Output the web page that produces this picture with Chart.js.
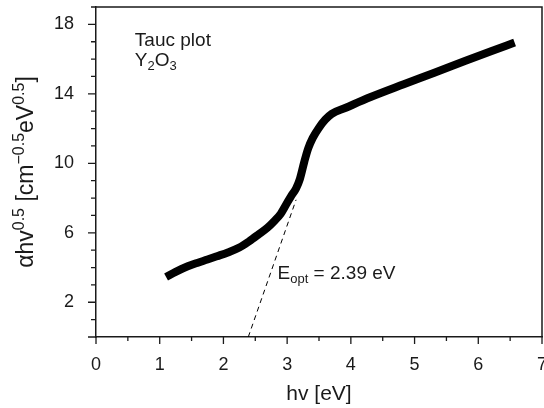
<!DOCTYPE html>
<html>
<head>
<meta charset="utf-8">
<script src="https://cdn.jsdelivr.net/npm/chart.js@4.4.0/dist/chart.umd.min.js"></script>
<style>
  html, body { margin: 0; padding: 0; background: #fff; }
</style>
</head>
<body>
<canvas id="myChart" width="544" height="408"></canvas>
<script>
// photon energy hv [eV] and (alpha*hv)^0.5
const hv   = [1.10, 1.25, 1.44, 1.60, 1.75, 1.90, 2.07, 2.25, 2.40, 2.55, 2.69, 2.80, 2.90, 2.98, 3.06, 3.14, 3.20, 3.27, 3.33, 3.40, 3.50, 3.60, 3.70, 3.92, 4.30, 4.83, 5.30, 5.80, 6.20, 6.57];
const tauc = [3.45, 3.75, 4.07, 4.28, 4.46, 4.65, 4.87, 5.15, 5.50, 5.90, 6.29, 6.68, 7.10, 7.60, 8.10, 8.55, 9.10, 10.10, 10.85, 11.45, 12.05, 12.52, 12.85, 13.20, 13.80, 14.55, 15.20, 15.90, 16.45, 16.95];

// linear extrapolation of the edge to the energy axis
const fitHv  = [2.39, 3.14];
const fitVal = [0, 7.9];

// labelled ticks
const xLabels = [0, 1, 2, 3, 4, 5, 6, 7];
const yLabels = [2, 6, 10, 14, 18];

const FONT = "'Liberation Sans', Arial, Helvetica, sans-serif";
const INK = '#1a1a1a';

// draws a run of [text, 'n'|'sup'|'sub'] pieces starting at (x,y) baseline
function richWidth(ctx, parts, size) {
  let w = 0;
  parts.forEach(([t, k]) => {
    ctx.font = (k === 'n' ? size : Math.round(size * 0.68)) + 'px ' + FONT;
    w += ctx.measureText(t).width;
  });
  return w;
}
function richText(ctx, parts, x, y, size) {
  parts.forEach(([t, k]) => {
    const s = k === 'n' ? size : Math.round(size * 0.68);
    ctx.font = s + 'px ' + FONT;
    let dy = 0;
    if (k === 'sup') dy = -size * 0.38;
    if (k === 'sub') dy = size * 0.22;
    ctx.fillText(t, x, y + dy);
    x += ctx.measureText(t).width;
  });
}

const extras = {
  id: 'extras',
  afterDraw(chart) {
    const ctx = chart.ctx;
    const xs = chart.scales.x, ys = chart.scales.y;
    const a = chart.chartArea;
    ctx.save();
    ctx.strokeStyle = INK;
    ctx.lineWidth = 1.5;
    // top and right frame
    ctx.beginPath();
    ctx.moveTo(a.left, a.top);
    ctx.lineTo(a.right, a.top);
    ctx.lineTo(a.right, a.bottom);
    ctx.stroke();
    // tick marks, outside
    ctx.lineWidth = 1.3;
    ctx.beginPath();
    xs.ticks.forEach(t => {
      const p = xs.getPixelForValue(t.value);
      const len = xLabels.includes(t.value) ? 7 : 4;
      ctx.moveTo(p, a.bottom);
      ctx.lineTo(p, a.bottom + len);
    });
    ys.ticks.forEach(t => {
      const p = ys.getPixelForValue(t.value);
      const len = (yLabels.includes(t.value) || t.value === 0) ? 8 : 5;
      ctx.moveTo(a.left, p);
      ctx.lineTo(a.left - len, p);
    });
    ctx.stroke();

    ctx.fillStyle = INK;
    ctx.textBaseline = 'alphabetic';
    ctx.textAlign = 'left';
    // annotations, anchored in data units
    ctx.font = '19px ' + FONT;
    ctx.fillText('Tauc plot', xs.getPixelForValue(0.61), ys.getPixelForValue(16.75));
    richText(ctx, [['Y', 'n'], ['2', 'sub'], ['O', 'n'], ['3', 'sub']],
      xs.getPixelForValue(0.61), ys.getPixelForValue(15.6), 19);
    richText(ctx, [['E', 'n'], ['opt', 'sub'], [' = 2.39 eV', 'n']],
      xs.getPixelForValue(2.85), ys.getPixelForValue(3.35), 19);

    // x title
    ctx.font = '21px ' + FONT;
    ctx.textAlign = 'center';
    ctx.fillText('hv [eV]', (a.left + a.right) / 2, 400);

    // y title, rotated
    ctx.textAlign = 'left';
    const yParts = [['\u03b1hv', 'n'], ['0.5', 'sup'], [' [cm', 'n'], ['\u22120.5', 'sup'], ['eV', 'n'], ['0.5', 'sup'], [']', 'n']];
    const w = richWidth(ctx, yParts, 23);
    ctx.translate(33, (a.top + a.bottom) / 2);
    ctx.rotate(-Math.PI / 2);
    richText(ctx, yParts, -w / 2, 0, 23);
    ctx.restore();
  }
};

const ctx = document.getElementById('myChart').getContext('2d');
new Chart(ctx, {
  type: 'line',
  data: {
    datasets: [{
      data: hv.map((x, i) => ({ x: x, y: tauc[i] })),
      borderColor: '#000',
      borderWidth: 8,
      borderJoinStyle: 'round',
      pointRadius: 0,
      cubicInterpolationMode: 'monotone'
    }, {
      data: fitHv.map((x, i) => ({ x: x, y: fitVal[i] })),
      borderColor: '#000',
      borderWidth: 1,
      borderDash: [5, 4],
      pointRadius: 0,
      tension: 0
    }]
  },
  options: {
    responsive: false,
    animation: false,
    layout: { padding: { top: 7, right: 2, left: 0, bottom: 0 } },
    plugins: { legend: { display: false }, tooltip: { enabled: false } },
    scales: {
      x: {
        type: 'linear', min: 0, max: 7,
        grid: { display: false, drawTicks: false },
        border: { display: true, color: INK, width: 1.5 },
        ticks: {
          stepSize: 0.5, autoSkip: false, maxRotation: 0, padding: 17,
          color: INK, font: { family: FONT, size: 18 },
          callback: v => xLabels.includes(v) ? String(v) : ''
        },
        afterFit: s => { s.height = 71; s.paddingLeft = 0; s.paddingRight = 0; }
      },
      y: {
        type: 'linear', min: 0, max: 19,
        grid: { display: false, drawTicks: false },
        border: { display: true, color: INK, width: 1.5 },
        ticks: {
          stepSize: 1, autoSkip: false, padding: 22,
          color: INK, font: { family: FONT, size: 18 },
          callback: v => yLabels.includes(v) ? String(v) : ''
        },
        afterFit: s => { s.width = 96; s.paddingTop = 0; s.paddingBottom = 0; }
      }
    }
  },
  plugins: [extras]
});
</script>
</body>
</html>
